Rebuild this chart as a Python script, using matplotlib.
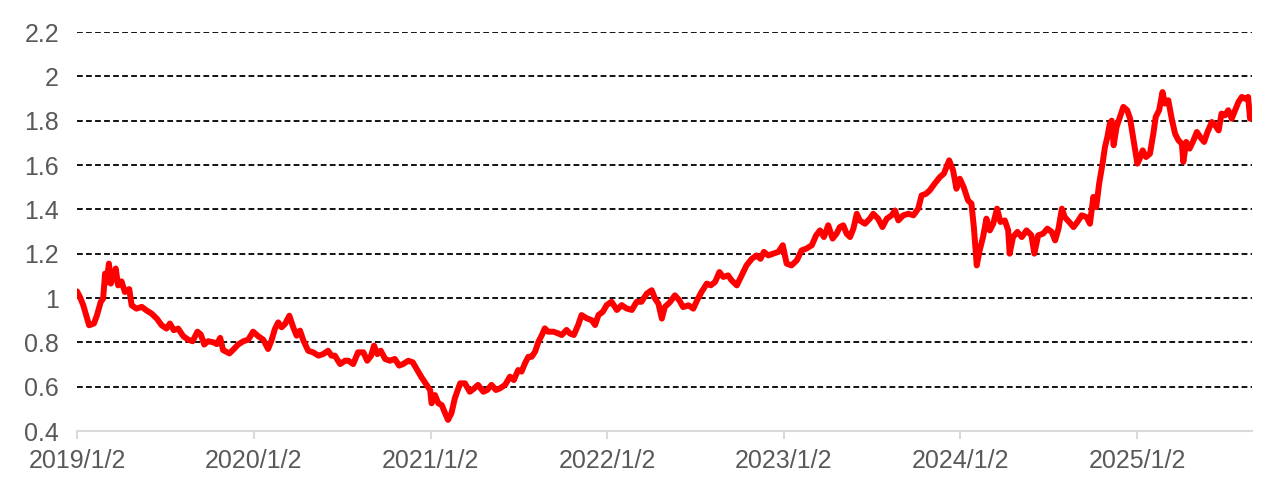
import matplotlib
matplotlib.use("Agg")
import matplotlib.pyplot as plt
import pandas as pd

start_date = "2019-01-02"
# days elapsed since start_date
day_offsets = [
    0, 6, 13, 20, 25, 35, 41, 49, 54, 58, 61, 66, 70, 75, 80, 85, 92, 99, 108, 113,
    123, 134, 143, 154, 165, 175, 185, 192, 200, 209, 220, 230, 239, 249, 256, 263, 271, 282, 289, 296,
    302, 315, 323, 333, 344, 354, 364, 375, 385, 395, 402, 409, 416, 423, 430, 439, 447, 454, 461, 468,
    478, 488, 499, 509, 519, 526, 533, 544, 554, 561, 571, 581, 592, 600, 608, 614, 621, 628, 637, 647,
    657, 666, 674, 685, 694, 702, 712, 723, 730, 733, 740, 747, 754, 761, 767, 774, 781, 792, 802, 812,
    821, 829, 840, 848, 857, 866, 874, 885, 895, 903, 912, 919, 926, 933, 940, 947, 954, 961, 967, 974,
    985, 995, 1002, 1012, 1019, 1027, 1036, 1043, 1054, 1064, 1071, 1078, 1087, 1095, 1105, 1116, 1126, 1136, 1147, 1157,
    1167, 1171, 1178, 1188, 1195, 1202, 1209, 1215, 1226, 1236, 1245, 1253, 1264, 1274, 1282, 1291, 1302, 1310, 1319, 1328,
    1336, 1346, 1353, 1364, 1374, 1384, 1395, 1405, 1413, 1420, 1429, 1439, 1450, 1459, 1467, 1477, 1488, 1498, 1508, 1519,
    1528, 1536, 1544, 1553, 1562, 1570, 1577, 1584, 1591, 1598, 1605, 1612, 1618, 1629, 1639, 1646, 1656, 1665, 1674, 1684,
    1691, 1698, 1708, 1719, 1729, 1739, 1746, 1755, 1763, 1773, 1784, 1792, 1803, 1811, 1818, 1825, 1833, 1842, 1849, 1854,
    1860, 1866, 1873, 1880, 1887, 1894, 1902, 1909, 1918, 1925, 1928, 1935, 1944, 1953, 1963, 1973, 1979, 1987, 1997, 2006,
    2015, 2022, 2029, 2036, 2042, 2051, 2060, 2068, 2077, 2087, 2094, 2101, 2107, 2113, 2120, 2125, 2130, 2135, 2139, 2143,
    2149, 2156, 2163, 2171, 2177, 2182, 2187, 2192, 2197, 2203, 2210, 2218, 2225, 2230, 2237, 2244, 2249, 2256, 2263, 2270,
    2277, 2284, 2287, 2293, 2300, 2308, 2315, 2322, 2330, 2337, 2346, 2353, 2360, 2366, 2373, 2380, 2387, 2394, 2401, 2408,
    2415, 2421, 2425,
]
values = [
    1.03, 1.005, 0.967, 0.915, 0.877, 0.885, 0.92, 0.982, 0.997, 1.11, 1.07, 1.155, 1.065, 1.095, 1.133, 1.057, 1.075, 1.027, 1.04, 0.967,
    0.952, 0.96, 0.945, 0.93, 0.907, 0.877, 0.862, 0.885, 0.855, 0.862, 0.827, 0.812, 0.805, 0.848, 0.835, 0.79, 0.805, 0.8, 0.792, 0.82,
    0.765, 0.75, 0.767, 0.79, 0.805, 0.812, 0.848, 0.827, 0.812, 0.77, 0.808, 0.86, 0.89, 0.868, 0.883, 0.92, 0.868, 0.83, 0.853, 0.808,
    0.762, 0.755, 0.74, 0.747, 0.762, 0.74, 0.74, 0.702, 0.717, 0.717, 0.702, 0.755, 0.755, 0.717, 0.74, 0.785, 0.747, 0.762, 0.725, 0.717,
    0.725, 0.695, 0.702, 0.717, 0.71, 0.68, 0.643, 0.607, 0.585, 0.525, 0.562, 0.525, 0.517, 0.48, 0.45, 0.48, 0.547, 0.615, 0.615, 0.577,
    0.592, 0.608, 0.577, 0.585, 0.608, 0.585, 0.592, 0.608, 0.645, 0.63, 0.675, 0.668, 0.705, 0.735, 0.735, 0.758, 0.803, 0.833, 0.863, 0.848,
    0.848, 0.84, 0.833, 0.856, 0.84, 0.833, 0.878, 0.923, 0.908, 0.9, 0.878, 0.923, 0.938, 0.968, 0.983, 0.946, 0.968, 0.953, 0.946, 0.983,
    0.983, 0.997, 1.02, 1.035, 0.997, 0.974, 0.907, 0.959, 0.982, 1.012, 0.99, 0.959, 0.967, 0.952, 0.99, 1.027, 1.065, 1.057, 1.072, 1.117,
    1.095, 1.102, 1.08, 1.057, 1.102, 1.147, 1.177, 1.192, 1.177, 1.208, 1.192, 1.2, 1.208, 1.238, 1.155, 1.147, 1.17, 1.215, 1.223, 1.238,
    1.283, 1.305, 1.275, 1.328, 1.268, 1.29, 1.32, 1.328, 1.29, 1.275, 1.313, 1.38, 1.35, 1.335, 1.358, 1.38, 1.358, 1.32, 1.358, 1.373,
    1.395, 1.35, 1.373, 1.38, 1.373, 1.403, 1.463, 1.47, 1.486, 1.516, 1.546, 1.561, 1.621, 1.576, 1.493, 1.538, 1.5, 1.44, 1.426, 1.32,
    1.147, 1.215, 1.275, 1.358, 1.305, 1.335, 1.403, 1.343, 1.35, 1.305, 1.2, 1.275, 1.298, 1.275, 1.305, 1.283, 1.2, 1.283, 1.29, 1.313,
    1.298, 1.26, 1.313, 1.403, 1.365, 1.343, 1.32, 1.343, 1.373, 1.365, 1.335, 1.456, 1.41, 1.516, 1.606, 1.681, 1.726, 1.786, 1.8, 1.689,
    1.771, 1.817, 1.862, 1.847, 1.809, 1.741, 1.674, 1.606, 1.629, 1.666, 1.636, 1.651, 1.741, 1.817, 1.847, 1.929, 1.877, 1.892, 1.809, 1.741,
    1.711, 1.696, 1.614, 1.704, 1.674, 1.711, 1.749, 1.726, 1.704, 1.749, 1.794, 1.779, 1.756, 1.832, 1.824, 1.847, 1.809, 1.847, 1.884, 1.907,
    1.899, 1.907, 1.809,
]
x_tick_labels = ["2019/1/2", "2020/1/2", "2021/1/2", "2022/1/2", "2023/1/2", "2024/1/2", "2025/1/2"]
y_ticks = [0.4, 0.6, 0.8, 1.0, 1.2, 1.4, 1.6, 1.8, 2.0, 2.2]
y_tick_labels = ["0.4", "0.6", "0.8", "1", "1.2", "1.4", "1.6", "1.8", "2", "2.2"]
end_days = 2429

plt.rcParams["font.family"] = ["Liberation Sans", "DejaVu Sans"]

t0 = pd.Timestamp(start_date)
dates = t0 + pd.to_timedelta(day_offsets, unit="D")
x_ticks = [pd.Timestamp(s.replace("/", "-")) for s in x_tick_labels]

fig = plt.figure(figsize=(12.69, 4.86), dpi=100)
ax = fig.add_axes([77 / 1269, 1 - 431 / 486, (1252 - 77) / 1269, (431 - 32) / 486])

ax.set_xlim(t0, t0 + pd.Timedelta(days=end_days))
ax.set_ylim(y_ticks[0], y_ticks[-1])

for yv in y_ticks[1:]:
    ax.axhline(yv, color="black", lw=1.3, ls=(0, (3.2, 1.8)), zorder=1)

ax.plot(dates, values, color="#ff0000", lw=4.3, solid_joinstyle="round",
        solid_capstyle="round", zorder=3)

ax.set_yticks(y_ticks)
ax.set_yticklabels(y_tick_labels)
ax.set_xticks(x_ticks)
ax.set_xticklabels(x_tick_labels)

for s in ["top", "right", "left"]:
    ax.spines[s].set_visible(False)
ax.spines["bottom"].set_color("#d9d9d9")
ax.spines["bottom"].set_linewidth(1.5)
ax.spines["bottom"].set_zorder(2)

ax.tick_params(axis="y", length=0, pad=13, labelsize=18, labelcolor="#595959")
ax.tick_params(axis="x", length=6, width=1.5, color="#d9d9d9", pad=7,
               labelsize=18, labelcolor="#595959")

fig.savefig("out.png", dpi=100)
